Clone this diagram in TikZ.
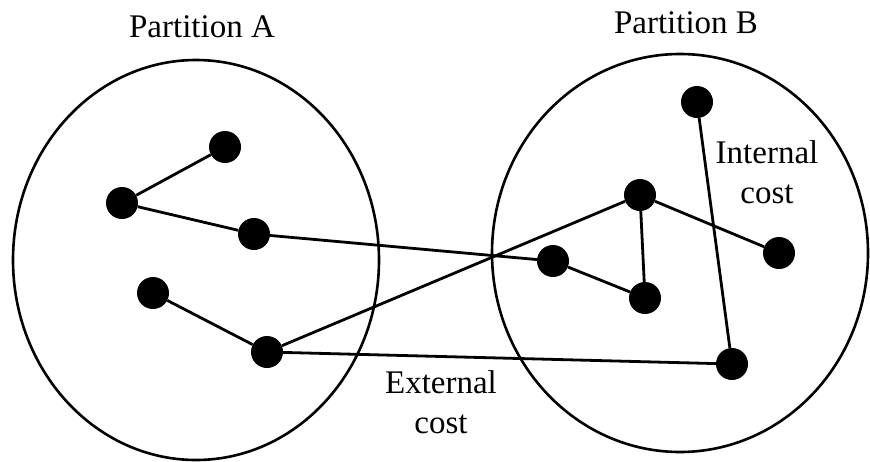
\documentclass[tikz,border=0pt]{standalone}
\usepackage{fontspec}
\setmainfont{Liberation Serif}
\usetikzlibrary{positioning}

\begin{document}
\begin{tikzpicture}[
  x=1pt, y=-1pt,
  vert/.style={
    circle,
    fill=black,
    inner sep=0pt,
    minimum size=32pt
  },
  part/.style={
    draw,
    line width=2.6pt
  },
  edge/.style={line width=2.8pt},
  label/.style={
    font=\fontsize{33}{40}\selectfont,
    align=center,
    anchor=base,
    inner sep=0pt
  }
]
\useasboundingbox (0,0) rectangle (870,461);

% the two partitions
\draw[part] (196,260) ellipse [x radius=183pt, y radius=200pt];
\draw[part] (680,253) ellipse [x radius=188pt, y radius=199pt];

\node[label] (titleA) at (202,37) {Partition A};
\node[label] (titleB) at (686,33) {Partition B};

% vertices of A
\node[vert] (a1) at (225,147) {};
\node[vert] (a2) at (122,203) {};
\node[vert] (a3) at (254,234) {};
\node[vert] (a4) at (153,293) {};
\node[vert] (a5) at (267,352) {};

% vertices of B
\node[vert] (b1) at (697,102) {};
\node[vert] (b2) at (640,195) {};
\node[vert] (b3) at (553,261) {};
\node[vert] (b4) at (645,298) {};
\node[vert] (b5) at (779,253) {};
\node[vert] (b6) at (732,364) {};

\draw[edge] (a1) -- (a2);
\draw[edge] (a2) -- (a3);
\draw[edge] (a4) -- (a5);
\draw[edge] (a3) -- (b3);
\draw[edge] (a5) -- (b2);
\draw[edge] (a5) -- (b6);
\draw[edge] (b2) -- (b5);
\draw[edge] (b2) -- (b4);
\draw[edge] (b3) -- (b4);
\draw[edge] (b1) -- (b6);

% last line sits on the anchor
\node[label] (internal) at (767,203) {Internal\\cost};
\node[label] (external) at (441,433) {External\\cost};
\end{tikzpicture}
\end{document}
